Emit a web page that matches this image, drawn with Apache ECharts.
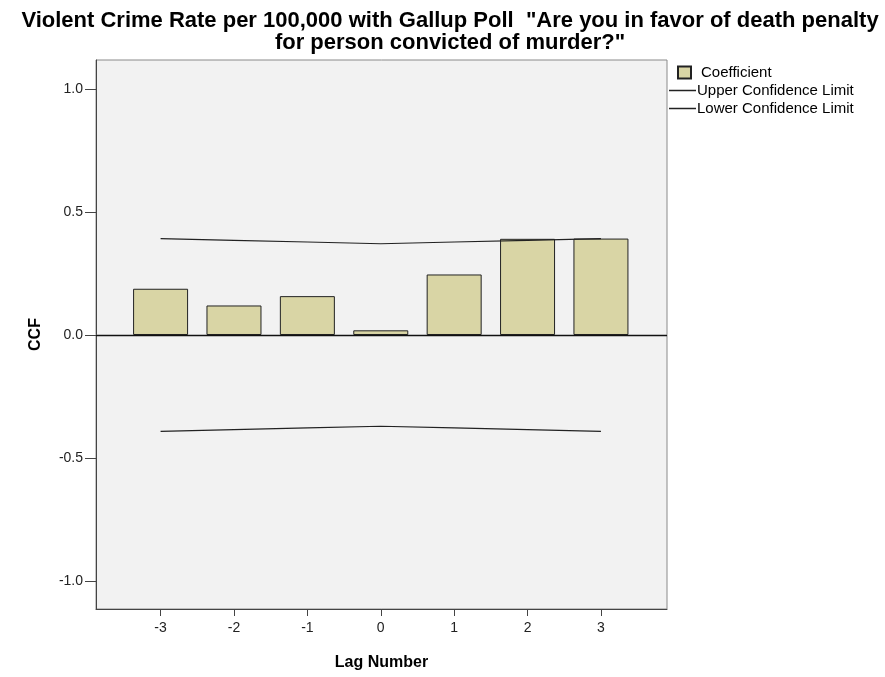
<!DOCTYPE html>
<html>
<head>
<meta charset="utf-8">
<script src="https://cdn.jsdelivr.net/npm/echarts@6/dist/echarts.min.js"></script>
<style>
  html, body { margin: 0; padding: 0; background: #ffffff; }
  #chart { width: 885px; height: 677px; }
</style>
</head>
<body>
<div id="chart"></div>
<script>
// Cross-correlation of violent crime rate with Gallup death-penalty poll
const lags = [-3, -2, -1, 0, 1, 2, 3];
const coefficient = [0.188, 0.120, 0.158, 0.019, 0.246, 0.391, 0.392];
const upperLimit = [0.392, 0.385, 0.378, 0.371, 0.378, 0.385, 0.392];
const lowerLimit = [-0.392, -0.385, -0.378, -0.371, -0.378, -0.385, -0.392];
const yTicks = [-1.0, -0.5, 0.0, 0.5, 1.0];

const font = '"Liberation Sans", Arial, sans-serif';
const pair = (vals) => lags.map((x, i) => [x, vals[i]]);

const chart = echarts.init(document.getElementById('chart'), null, { renderer: 'canvas' });
chart.setOption({
  backgroundColor: '#ffffff',
  animation: false,
  title: {
    text: 'Violent Crime Rate per 100,000 with Gallup Poll  "Are you in favor of death penalty\nfor person convicted of murder?"',
    left: 445,
    top: 5,
    textAlign: 'center',
    textStyle: {
      fontFamily: font, fontSize: 22, fontWeight: 'bold', color: '#000',
      lineHeight: 22, align: 'center'
    }
  },
  legend: [
    {
      orient: 'vertical', left: 677, top: 65, padding: 0,
      itemWidth: 13, itemHeight: 12, itemGap: 5,
      textStyle: { fontFamily: font, fontSize: 15, color: '#000', padding: [0, 0, 0, 5] },
      data: [{ name: 'Coefficient', icon: 'rect' }],
      selectedMode: false
    },
    {
      orient: 'vertical', left: 669, top: 83, padding: 0,
      itemWidth: 27, itemHeight: 1.5, itemGap: 3,
      textStyle: { fontFamily: font, fontSize: 15, color: '#000', padding: [0, 0, 0, -4] },
      data: [
        { name: 'Upper Confidence Limit', icon: 'rect' },
        { name: 'Lower Confidence Limit', icon: 'rect' }
      ],
      selectedMode: false
    }
  ],
  grid: {
    left: 96, right: 218, top: 60, bottom: 68,
    show: true, backgroundColor: '#f2f2f2', borderColor: '#8a8a8a', borderWidth: 1
  },
  xAxis: {
    type: 'value',
    min: -3.88, max: 3.9,
    name: 'Lag Number',
    nameLocation: 'middle',
    nameGap: 46,
    nameTextStyle: { fontFamily: font, fontSize: 16, fontWeight: 'bold', color: '#000' },
    splitLine: { show: false },
    axisLine: { show: true, onZero: false, lineStyle: { color: '#444', width: 1 } },
    axisTick: { show: true, length: 7, customValues: lags, lineStyle: { color: '#444' } },
    axisLabel: {
      customValues: lags, margin: 12,
      fontFamily: font, fontSize: 14, color: '#222',
      formatter: (v) => String(v)
    }
  },
  yAxis: {
    type: 'value',
    min: -1.114, max: 1.118,
    name: 'CCF',
    nameLocation: 'middle',
    nameGap: 52,
    nameTextStyle: { fontFamily: font, fontSize: 16, fontWeight: 'bold', color: '#000' },
    splitLine: { show: false },
    axisLine: { show: true, onZero: false, lineStyle: { color: '#444', width: 1 } },
    axisTick: { show: true, length: 11, customValues: yTicks, lineStyle: { color: '#444' } },
    axisLabel: {
      customValues: yTicks, margin: 13,
      fontFamily: font, fontSize: 14, color: '#222',
      formatter: (v) => v.toFixed(1)
    }
  },
  series: [
    {
      name: 'Coefficient',
      type: 'bar',
      barWidth: 55,
      data: pair(coefficient),
      itemStyle: { color: '#d9d5a5', borderColor: '#222', borderWidth: 1 },
      z: 2,
      markLine: {
        silent: true,
        symbol: 'none',
        label: { show: false },
        lineStyle: { color: '#111', width: 1.3, type: 'solid' },
        data: [{ yAxis: 0 }]
      }
    },
    {
      name: 'Upper Confidence Limit',
      type: 'line',
      data: pair(upperLimit),
      showSymbol: false,
      symbol: 'none',
      itemStyle: { color: '#222' },
      lineStyle: { color: '#222', width: 1.2 },
      z: 3
    },
    {
      name: 'Lower Confidence Limit',
      type: 'line',
      data: pair(lowerLimit),
      showSymbol: false,
      symbol: 'none',
      itemStyle: { color: '#222' },
      lineStyle: { color: '#222', width: 1.2 },
      z: 3
    }
  ]
});
</script>
</body>
</html>
